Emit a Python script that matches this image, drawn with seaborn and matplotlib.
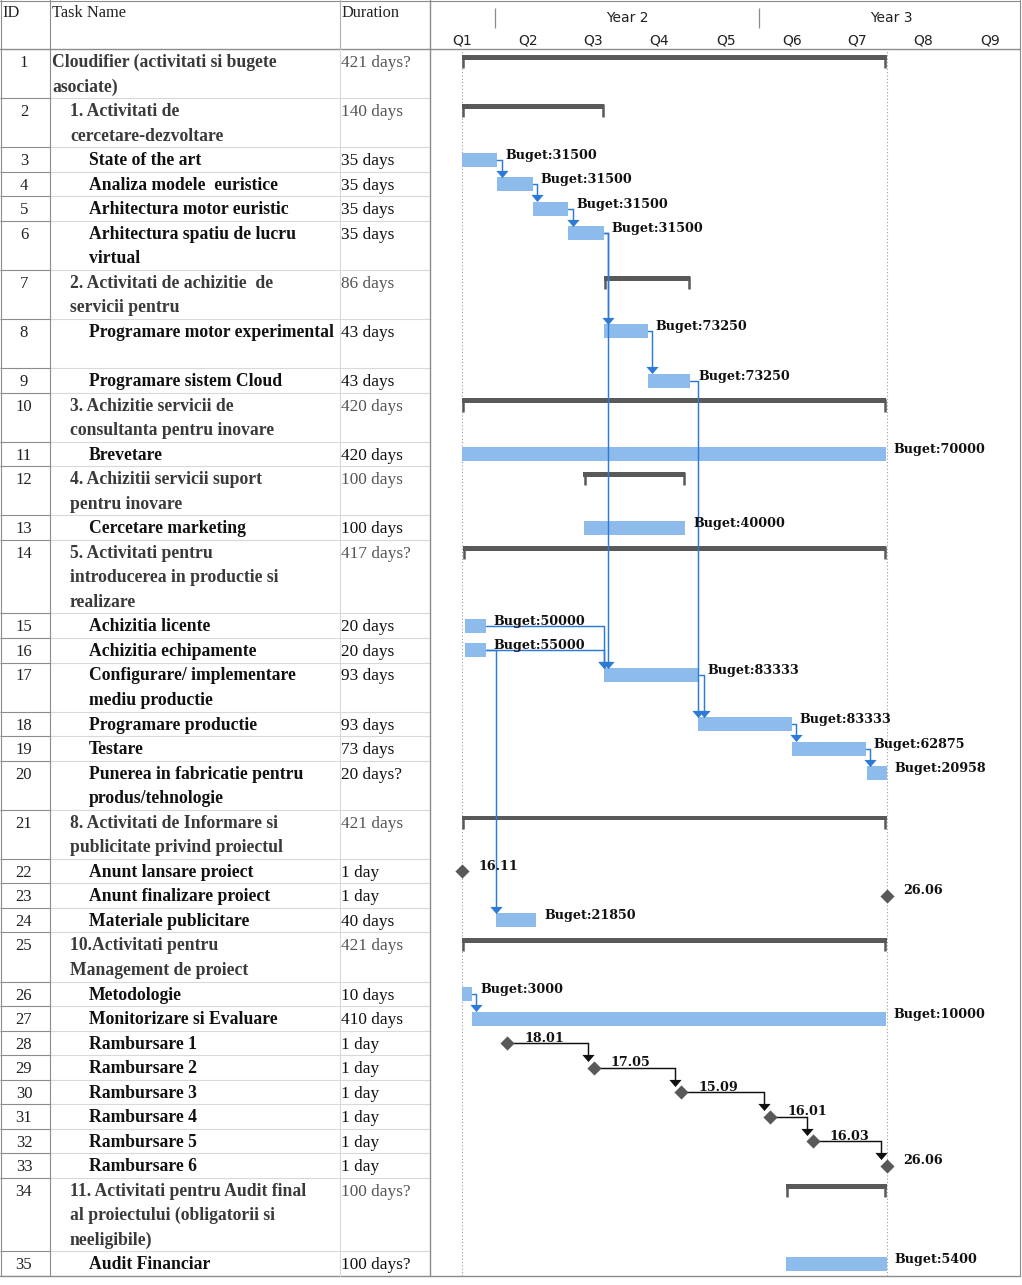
import matplotlib
matplotlib.use("Agg")
import matplotlib.pyplot as plt
import matplotlib.dates as mdates
from matplotlib.lines import Line2D
import numpy as np
import pandas as pd
import seaborn as sns

# ---------------- data ----------------
task_ids = list(range(1, 36))
task_names = [
    "Cloudifier (activitati si bugete\nasociate)",
    "1. Activitati de\ncercetare-dezvoltare",
    "State of the art",
    "Analiza modele  euristice",
    "Arhitectura motor euristic",
    "Arhitectura spatiu de lucru\nvirtual",
    "2. Activitati de achizitie  de\nservicii pentru",
    "Programare motor experimental\n",
    "Programare sistem Cloud",
    "3. Achizitie servicii de\nconsultanta pentru inovare",
    "Brevetare",
    "4. Achizitii servicii suport\npentru inovare",
    "Cercetare marketing",
    "5. Activitati pentru\nintroducerea in productie si\nrealizare",
    "Achizitia licente",
    "Achizitia echipamente",
    "Configurare/ implementare\nmediu productie",
    "Programare productie",
    "Testare",
    "Punerea in fabricatie pentru\nprodus/tehnologie",
    "8. Activitati de Informare si\npublicitate privind proiectul",
    "Anunt lansare proiect",
    "Anunt finalizare proiect",
    "Materiale publicitare",
    "10.Activitati pentru\nManagement de proiect",
    "Metodologie",
    "Monitorizare si Evaluare",
    "Rambursare 1",
    "Rambursare 2",
    "Rambursare 3",
    "Rambursare 4",
    "Rambursare 5",
    "Rambursare 6",
    "11. Activitati pentru Audit final\nal proiectului (obligatorii si\nneeligibile)",
    "Audit Financiar",
]
durations = [
    "421 days?", "140 days", "35 days", "35 days", "35 days", "35 days",
    "86 days", "43 days", "43 days", "420 days", "420 days", "100 days",
    "100 days", "417 days?", "20 days", "20 days", "93 days", "93 days",
    "73 days", "20 days?", "421 days", "1 day", "1 day", "40 days",
    "421 days", "10 days", "410 days", "1 day", "1 day", "1 day", "1 day",
    "1 day", "1 day", "100 days?", "100 days?",
]
outline_levels = [0, 1, 2, 2, 2, 2, 1, 2, 2, 1, 2, 1, 2, 1, 2, 2, 2, 2, 2, 2,
                  1, 2, 2, 2, 1, 2, 2, 2, 2, 2, 2, 2, 2, 1, 2]
task_types = ["S", "S", "T", "T", "T", "T", "S", "T", "T", "S", "T", "S", "T",
              "S", "T", "T", "T", "T", "T", "T", "S", "M", "M", "T", "S", "T",
              "T", "M", "M", "M", "M", "M", "M", "S", "T"]
starts = [
    "2016-11-16", "2016-11-16", "2016-11-16", "2017-01-04", "2017-02-22",
    "2017-04-12", "2017-05-31", "2017-05-31", "2017-07-31", "2016-11-16",
    "2016-11-16", "2017-05-03", "2017-05-04", "2016-11-17", "2016-11-21",
    "2016-11-21", "2017-05-31", "2017-10-09", "2018-02-15", "2018-05-30",
    "2016-11-16", "2016-11-16", "2018-06-26", "2017-01-02", "2016-11-16",
    "2016-11-16", "2016-11-30", "2017-01-18", "2017-05-17", "2017-09-15",
    "2018-01-16", "2018-03-16", "2018-06-26", "2018-02-07", "2018-02-07",
]
finishes = [
    "2018-06-26", "2017-05-31", "2017-01-04", "2017-02-22", "2017-04-12",
    "2017-05-31", "2017-09-28", "2017-07-31", "2017-09-28", "2018-06-25",
    "2018-06-25", "2017-09-20", "2017-09-21", "2018-06-25", "2016-12-19",
    "2016-12-19", "2017-10-10", "2018-02-15", "2018-05-28", "2018-06-26",
    "2018-06-26", "2016-11-16", "2018-06-26", "2017-02-27", "2018-06-26",
    "2016-11-30", "2018-06-25", "2017-01-18", "2017-05-17", "2017-09-15",
    "2018-01-16", "2018-03-16", "2018-06-26", "2018-06-26", "2018-06-26",
]
budgets = [None, None, 31500, 31500, 31500, 31500, None, 73250, 73250, None,
           70000, None, 40000, None, 50000, 55000, 83333, 83333, 62875, 20958,
           None, None, None, 21850, None, 3000, 10000, None, None, None, None,
           None, None, None, 5400]
links = [(3, 4), (4, 5), (5, 6), (6, 8), (8, 9), (6, 17), (15, 17), (16, 17),
         (9, 18), (17, 18), (18, 19), (19, 20), (16, 24), (26, 27),
         (28, 29), (29, 30), (30, 31), (31, 32), (32, 33)]
table_headers = ["ID", "Task Name", "Duration"]
year_labels = ["Year 2", "Year 3"]
year_starts = ["2017-01-01", "2018-01-01", "2019-01-01"]
quarter_labels = ["Q1", "Q2", "Q3", "Q4", "Q5", "Q6", "Q7", "Q8", "Q9"]
view_range = ["2016-10-03", "2018-12-26"]

# ---------------- style ----------------
sns.set_theme(style="white")
plt.rcParams["font.family"] = ["Liberation Serif", "DejaVu Serif"]

BAR = "#8dbbeb"
SUM = "#595959"
LINK = "#2e7bd6"
GRID_D = "#8c8c8c"
GRID_L = "#d9d9d9"
LBL_FONT = dict(family=["DejaVu Serif"], weight="bold", size=9.2, color="#111111")
ARROW = [(-6, 3.5), (6, 3.5), (0, -3.5)]

W, H = 1022, 1285
TOP, BOTTOM = 49, 1276
TL, TR = 430, 1019
fig = plt.figure(figsize=(W / 100, H / 100), dpi=100)
fig.patch.set_facecolor("white")


def rect(x0, y0, x1, y1):
    return [x0 / W, 1 - y1 / H, (x1 - x0) / W, (y1 - y0) / H]


ax_g = fig.add_axes(rect(TL, TOP, TR, BOTTOM))
ax_t = fig.add_axes(rect(0, TOP, TL, BOTTOM), sharey=ax_g)
ax_h = fig.add_axes(rect(TL, 0, TR, TOP), sharex=ax_g)
ax_th = fig.add_axes(rect(0, 0, TL, TOP))
for a in (ax_g, ax_t, ax_h, ax_th):
    a.set_axis_off()

n_lines = np.array([n.count("\n") + 1 for n in task_names])
row_top = np.concatenate([[0], np.cumsum(n_lines)[:-1]])
total = int(n_lines.sum())
PX_LINE = (BOTTOM - TOP) / total

s = mdates.date2num(pd.to_datetime(starts))
f = mdates.date2num(pd.to_datetime(finishes))
xmin, xmax = mdates.date2num(pd.to_datetime(view_range))
PX_DAY = (TR - TL) / (xmax - xmin)


def py(v):
    return v / PX_LINE


def px(v):
    return v / PX_DAY


ax_g.set_xlim(xmin, xmax)
ax_g.set_ylim(total, 0)
ax_t.set_xlim(0, TL)
ax_h.set_ylim(TOP, 0)
ax_th.set_xlim(0, TL)
ax_th.set_ylim(TOP, 0)

# ---------------- table ----------------
for i in range(len(task_ids)):
    top = row_top[i]
    lines = task_names[i].split("\n")
    is_sum = task_types[i] == "S"
    indent = [52, 70, 89][outline_levels[i]]
    ax_t.text(24, top + py(18), str(task_ids[i]), ha="center", va="baseline",
              fontsize=12, color="#222222")
    for k, ln in enumerate(lines):
        ax_t.text(indent, top + k + py(18), ln, ha="left", va="baseline",
                  fontsize=12.7, fontweight="bold",
                  color="#3a3a3a" if is_sum else "#111111")
    ax_t.text(341, top + py(18), durations[i], ha="left", va="baseline",
              fontsize=12.4, color="#555555" if is_sum else "#111111")

bounds = list(row_top[1:]) + [total]
ax_t.hlines(bounds, 0, 50, color=GRID_D, lw=0.8)
ax_t.hlines(bounds, 50, TL, color=GRID_L, lw=0.8)

for x, t in zip([2, 52, 342], table_headers):
    ax_th.text(x, 17, t, ha="left", va="baseline", fontsize=11.8, color="#222222")

# ---------------- gantt ----------------
proj_s, proj_f = s[0], f[0]
ax_g.axvline(proj_s, color="#9a9a9a", lw=0.8, ls=(0, (1, 2)), zorder=0)
ax_g.axvline(proj_f, color="#9a9a9a", lw=0.8, ls=(0, (1, 2)), zorder=0)

for i, k in enumerate(task_types):
    top = row_top[i]
    if k == "T":
        ax_g.barh(top + py(12.5), f[i] - s[i], left=s[i], height=py(14),
                  color=BAR, linewidth=0, zorder=2)
    elif k == "S":
        ax_g.barh(top + py(8.3), f[i] - s[i], left=s[i], height=py(4.8),
                  color=SUM, linewidth=0, zorder=2)
        ax_g.vlines([s[i] + px(1.1), f[i] - px(1.1)], top + py(6), top + py(19),
                    color=SUM, lw=1.8, zorder=2)

ms = pd.DataFrame({
    "x": [s[i] for i, k in enumerate(task_types) if k == "M"],
    "y": [row_top[i] + py(12.5) for i, k in enumerate(task_types) if k == "M"],
})
sns.scatterplot(data=ms, x="x", y="y", marker="D", s=52, color=SUM,
                linewidth=0, ax=ax_g, zorder=4, legend=False)
ax_g.set_xlabel("")
ax_g.set_ylabel("")

# links
for p, q in links:
    pi, qi = p - 1, q - 1
    x0 = s[pi] if task_types[pi] == "M" else f[pi]
    y0 = row_top[pi] + py(12.5)
    if task_types[qi] == "M":
        sx = s[qi] - px(6)
        tip = row_top[qi] + py(6.5)
    else:
        sx = s[qi]
        tip = row_top[qi] + py(5.5)
    xa = max(x0 + px(4.5), sx)
    col = "#111111" if task_types[pi] == "M" else LINK
    ax_g.plot([x0, xa, xa], [y0, y0, tip - py(5)], color=col, lw=1.05,
              zorder=3, solid_joinstyle="miter")
    ax_g.scatter([xa], [tip - py(3.5)], marker=ARROW, s=78, color=col,
                 linewidths=0, zorder=5)

# labels
for i, b in enumerate(budgets):
    if b is not None:
        ax_g.text(f[i] + px(8), row_top[i] + py(8), f"Buget:{b}",
                  ha="left", va="center", zorder=6, **LBL_FONT)
for i, k in enumerate(task_types):
    if k == "M":
        lab = mdates.num2date(s[i]).strftime("%d.%m")
        ax_g.text(s[i] + px(17), row_top[i] + py(7.5), lab,
                  ha="left", va="center", zorder=6, **LBL_FONT)

# ---------------- timescale header ----------------
ys = mdates.date2num(pd.to_datetime(year_starts))
ax_h.vlines(ys[:-1], 8, 28, color="#8c8c8c", lw=0.9)
for lab, a, b in zip(year_labels, ys[:-1], ys[1:]):
    ax_h.text((a + b) / 2, 18.5, lab, ha="center", va="center",
              fontsize=10, family=["DejaVu Sans"], color="#222222")
qs = pd.date_range("2016-10-01", periods=len(quarter_labels) + 1, freq="QS")
qn = mdates.date2num(qs)
for lab, a, b in zip(quarter_labels, qn[:-1], qn[1:]):
    ax_h.text((a + b) / 2, 40, lab, ha="center", va="center",
              fontsize=10, family=["DejaVu Sans"], color="#222222")


# ---------------- frame lines ----------------
def fline(x0, y0, x1, y1, c, lw=0.8):
    fig.add_artist(Line2D([x0 / W, x1 / W], [1 - y0 / H, 1 - y1 / H],
                          transform=fig.transFigure, color=c, lw=lw))


fline(0, 0.5, 1020, 0.5, GRID_D)
fline(0.5, 0, 0.5, BOTTOM, GRID_D)
fline(1020, 0, 1020, BOTTOM, GRID_D)
fline(0, BOTTOM, 1020, BOTTOM, GRID_D, 1.0)
fline(0, TOP, 1020, TOP, GRID_D, 1.0)
fline(50, 0, 50, BOTTOM, GRID_D)
fline(340, 0, 340, TOP, "#b0b0b0")
fline(340, TOP, 340, BOTTOM, GRID_L)
fline(TL, 0, TL, BOTTOM, GRID_D, 1.0)

fig.savefig("out.png", dpi=100, facecolor="white")
